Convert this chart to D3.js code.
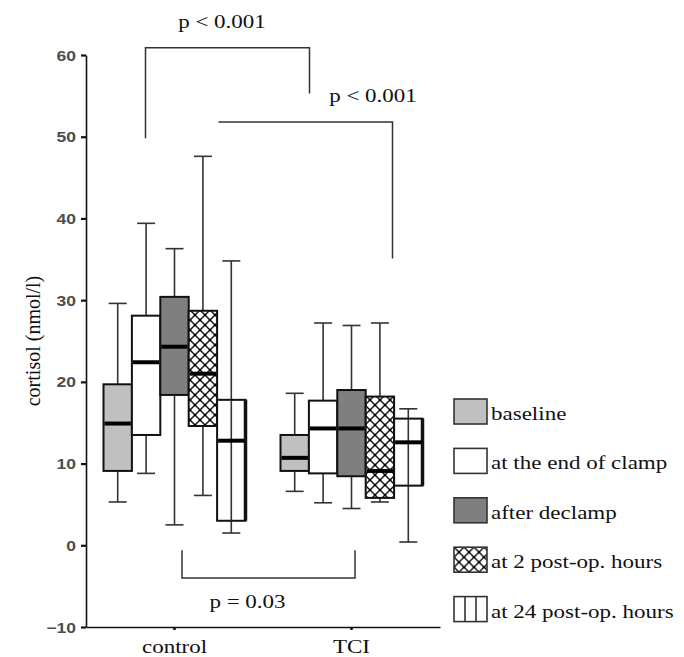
<!DOCTYPE html>
<html>
<head>
<meta charset="utf-8">
<script src="https://cdn.jsdelivr.net/npm/d3@7"></script>
<style>
  body { margin: 0; background: #fff; }
  svg { display: block; }
</style>
</head>
<body>
<svg id="chart" width="684" height="657"></svg>
<script>
// groups and the five time points
var categories = ["control", "TCI"];
var series = ["baseline", "at the end of clamp", "after declamp", "at 2 post-op. hours", "at 24 post-op. hours"];

// box stats (nmol/l), one value per time point
var controlMin = [5.3, 8.8, 2.5, 6.1, 1.5];
var controlQ1  = [9.1, 13.5, 18.4, 14.6, 3.0];
var controlMed = [14.9, 22.4, 24.3, 21.0, 12.8];
var controlQ3  = [19.7, 28.1, 30.4, 28.7, 17.8];
var controlMax = [29.6, 39.4, 36.3, 47.6, 34.8];

var tciMin = [6.6, 5.2, 4.5, 5.3, 0.4];
var tciQ1  = [9.1, 8.8, 8.45, 5.8, 7.3];
var tciMed = [10.7, 14.3, 14.3, 9.1, 12.6];
var tciQ3  = [13.5, 17.7, 19.0, 18.2, 15.5];
var tciMax = [18.6, 27.2, 26.9, 27.2, 16.7];

var yTicks = [-10, 0, 10, 20, 30, 40, 50, 60];

// labels of the significance brackets
var pLabels = ["p < 0.001", "p < 0.001", "p = 0.03"];

var SERIF = "'Liberation Serif', 'Times New Roman', Times, 'DejaVu Serif', serif";
var STRETCH = 1.18;   // the source picture is a bit wider than tall

var svg = d3.select("#chart");

var y = d3.scaleLinear().domain([-10, 60]).range([627, 55]);
var x0 = d3.scaleBand().domain(categories).range([86, 440]);
var x1 = d3.scaleBand().domain(series).range([-71, 71]);
var bw = x1.bandwidth();

function serifText(sel, size) {
    return sel.style("font-family", SERIF)
              .style("font-size", size + "px")
              .attr("fill", "#111");
}

var defs = svg.append("defs");
var cross = defs.append("pattern")
    .attr("id", "cross")
    .attr("patternUnits", "userSpaceOnUse")
    .attr("width", 10).attr("height", 10);
cross.append("rect").attr("width", 10).attr("height", 10).attr("fill", "#fff");
cross.append("path")
    .attr("d", "M0,0L10,10M10,0L0,10")
    .attr("stroke", "#1a1a1a").attr("stroke-width", 1.5);
// darker knots where the hatch lines cross
[[5, 5], [0, 0], [10, 0], [0, 10], [10, 10]].forEach(function(c) {
    cross.append("circle").attr("cx", c[0]).attr("cy", c[1]).attr("r", 1.3).attr("fill", "#000");
});

var fills = ["#c0c0c0", "#ffffff", "#7f7f7f", "url(#cross)", "#ffffff"];

// build rows
var boxes = [];
categories.forEach(function(cat) {
    var s = cat === "control"
        ? [controlMin, controlQ1, controlMed, controlQ3, controlMax]
        : [tciMin, tciQ1, tciMed, tciQ3, tciMax];
    series.forEach(function(name, i) {
        boxes.push({cat: cat, name: name, i: i,
                    min: s[0][i], q1: s[1][i], med: s[2][i], q3: s[3][i], max: s[4][i]});
    });
});

// axes
var yAxis = d3.axisLeft(y).tickValues(yTicks).tickSize(5).tickSizeOuter(0);
var yg = svg.append("g")
    .attr("transform", "translate(86,0)")
    .call(yAxis);
yg.select(".domain").attr("stroke", "#111").attr("stroke-width", 1.6);
yg.selectAll(".tick line").attr("stroke", "#111").attr("stroke-width", 2.2);
yg.selectAll(".tick text")
    .attr("x", 0).attr("dy", "0.36em")
    .attr("transform", "translate(-10,0) scale(1.25,1)")
    .attr("text-anchor", "end")
    .style("font-family", "Arial, 'Liberation Sans', sans-serif")
    .style("font-weight", "bold")
    .style("font-size", "14px")
    .attr("fill", "#4d4d4d");

var xAxis = d3.axisBottom(x0).tickSize(3).tickSizeOuter(0).tickFormat("");
var xg = svg.append("g")
    .attr("transform", "translate(0," + y(-10) + ")")
    .call(xAxis);
xg.select(".domain").attr("stroke", "#111").attr("stroke-width", 1.6);
xg.selectAll(".tick line").attr("stroke", "#111").attr("stroke-width", 2.5);

svg.selectAll(".cat-label")
    .data(categories)
    .enter().append("text")
    .attr("class", "cat-label")
    .attr("text-anchor", "middle")
    .attr("transform", function(d) {
        return "translate(" + (x0(d) + x0.bandwidth() / 2) + ",653) scale(" + STRETCH + ",1)";
    })
    .call(serifText, 19.5)
    .text(function(d) { return d; });

svg.append("text")
    .attr("text-anchor", "middle")
    .attr("transform", "translate(40," + y(25) + ") rotate(-90)")
    .call(serifText, 20)
    .text("cortisol (nmol/l)");

// boxes
function cx(d) { return x0(d.cat) + x0.bandwidth() / 2 + x1(d.name) + bw / 2; }

var g = svg.selectAll(".box")
    .data(boxes)
    .enter().append("g")
    .attr("class", "box");

g.append("line")
    .attr("x1", cx).attr("x2", cx)
    .attr("y1", function(d) { return y(d.max); })
    .attr("y2", function(d) { return y(d.q3); })
    .attr("stroke", "#333").attr("stroke-width", 1.6);
g.append("line")
    .attr("x1", cx).attr("x2", cx)
    .attr("y1", function(d) { return y(d.q1); })
    .attr("y2", function(d) { return y(d.min); })
    .attr("stroke", "#333").attr("stroke-width", 1.6);
["max", "min"].forEach(function(k) {
    g.append("line")
        .attr("x1", function(d) { return cx(d) - 9; })
        .attr("x2", function(d) { return cx(d) + 9; })
        .attr("y1", function(d) { return y(d[k]); })
        .attr("y2", function(d) { return y(d[k]); })
        .attr("stroke", "#333").attr("stroke-width", 1.6);
});

g.append("rect")
    .attr("x", function(d) { return cx(d) - bw / 2; })
    .attr("width", bw)
    .attr("y", function(d) { return y(d.q3); })
    .attr("height", function(d) { return y(d.q1) - y(d.q3); })
    .attr("fill", function(d) { return fills[d.i]; })
    .attr("stroke", "#111").attr("stroke-width", 2);

// the last time point has its whisker running through the box and a heavy right edge
var last = g.filter(function(d) { return d.i === 4; });
last.append("line")
    .attr("x1", cx).attr("x2", cx)
    .attr("y1", function(d) { return y(d.q3); })
    .attr("y2", function(d) { return y(d.q1); })
    .attr("stroke", "#333").attr("stroke-width", 1.6);
last.append("line")
    .attr("x1", function(d) { return cx(d) + bw / 2; })
    .attr("x2", function(d) { return cx(d) + bw / 2; })
    .attr("y1", function(d) { return y(d.q3); })
    .attr("y2", function(d) { return y(d.q1); })
    .attr("stroke", "#111").attr("stroke-width", 3.5);

g.append("line")
    .attr("x1", function(d) { return cx(d) - bw / 2 + 1; })
    .attr("x2", function(d) { return cx(d) + bw / 2 - 1; })
    .attr("y1", function(d) { return y(d.med); })
    .attr("y2", function(d) { return y(d.med); })
    .attr("stroke", "#000").attr("stroke-width", 4);

// significance brackets, anchored on the group centres
function gc(cat) { return x0(cat) + x0.bandwidth() / 2; }
var brackets = [
    {x1: gc("control") - 29, x2: gc("TCI") - 42, top: 60.9, leftEnd: 49.8, rightEnd: 55.3, tx: 222, ty: 63.3},
    {x1: gc("control") + 44, x2: gc("TCI") + 41, top: 51.8, leftEnd: null, rightEnd: 35.1, tx: 373, ty: 54.2},
    {x1: gc("control") + 7.5, x2: gc("TCI") + 3.5, top: -4.0, leftEnd: -0.6, rightEnd: -0.6, tx: 247.5, ty: -7.7}
];

brackets.forEach(function(b, i) {
    var p = d3.path();
    if (b.leftEnd !== null) {
        p.moveTo(b.x1, y(b.leftEnd));
        p.lineTo(b.x1, y(b.top));
    } else {
        p.moveTo(b.x1, y(b.top));
    }
    p.lineTo(b.x2, y(b.top));
    p.lineTo(b.x2, y(b.rightEnd));
    svg.append("path")
        .attr("d", p.toString())
        .attr("fill", "none")
        .attr("stroke", "#333").attr("stroke-width", 1.5);
    svg.append("text")
        .attr("text-anchor", "middle")
        .attr("transform", "translate(" + b.tx + "," + y(b.ty) + ") scale(" + STRETCH + ",1)")
        .call(serifText, 19.5)
        .text(pLabels[i]);
});

// legend
var legend = svg.selectAll(".legend")
    .data(series)
    .enter().append("g")
    .attr("class", "legend")
    .attr("transform", function(d, i) { return "translate(454," + (399 + i * 49.4) + ")"; });

legend.append("rect")
    .attr("width", 33).attr("height", 25)
    .attr("fill", function(d, i) { return fills[i]; })
    .attr("stroke", "#333").attr("stroke-width", 1.6);

legend.filter(function(d, i) { return i === 4; })
    .selectAll(".div")
    .data([1, 2])
    .enter().append("line")
    .attr("x1", function(k) { return 33 * k / 3; })
    .attr("x2", function(k) { return 33 * k / 3; })
    .attr("y1", 0).attr("y2", 25)
    .attr("stroke", "#333").attr("stroke-width", 1.6);

legend.append("text")
    .attr("transform", "translate(37,21) scale(" + STRETCH + ",1)")
    .call(serifText, 19.5)
    .text(function(d) { return d; });
</script>
</body>
</html>
